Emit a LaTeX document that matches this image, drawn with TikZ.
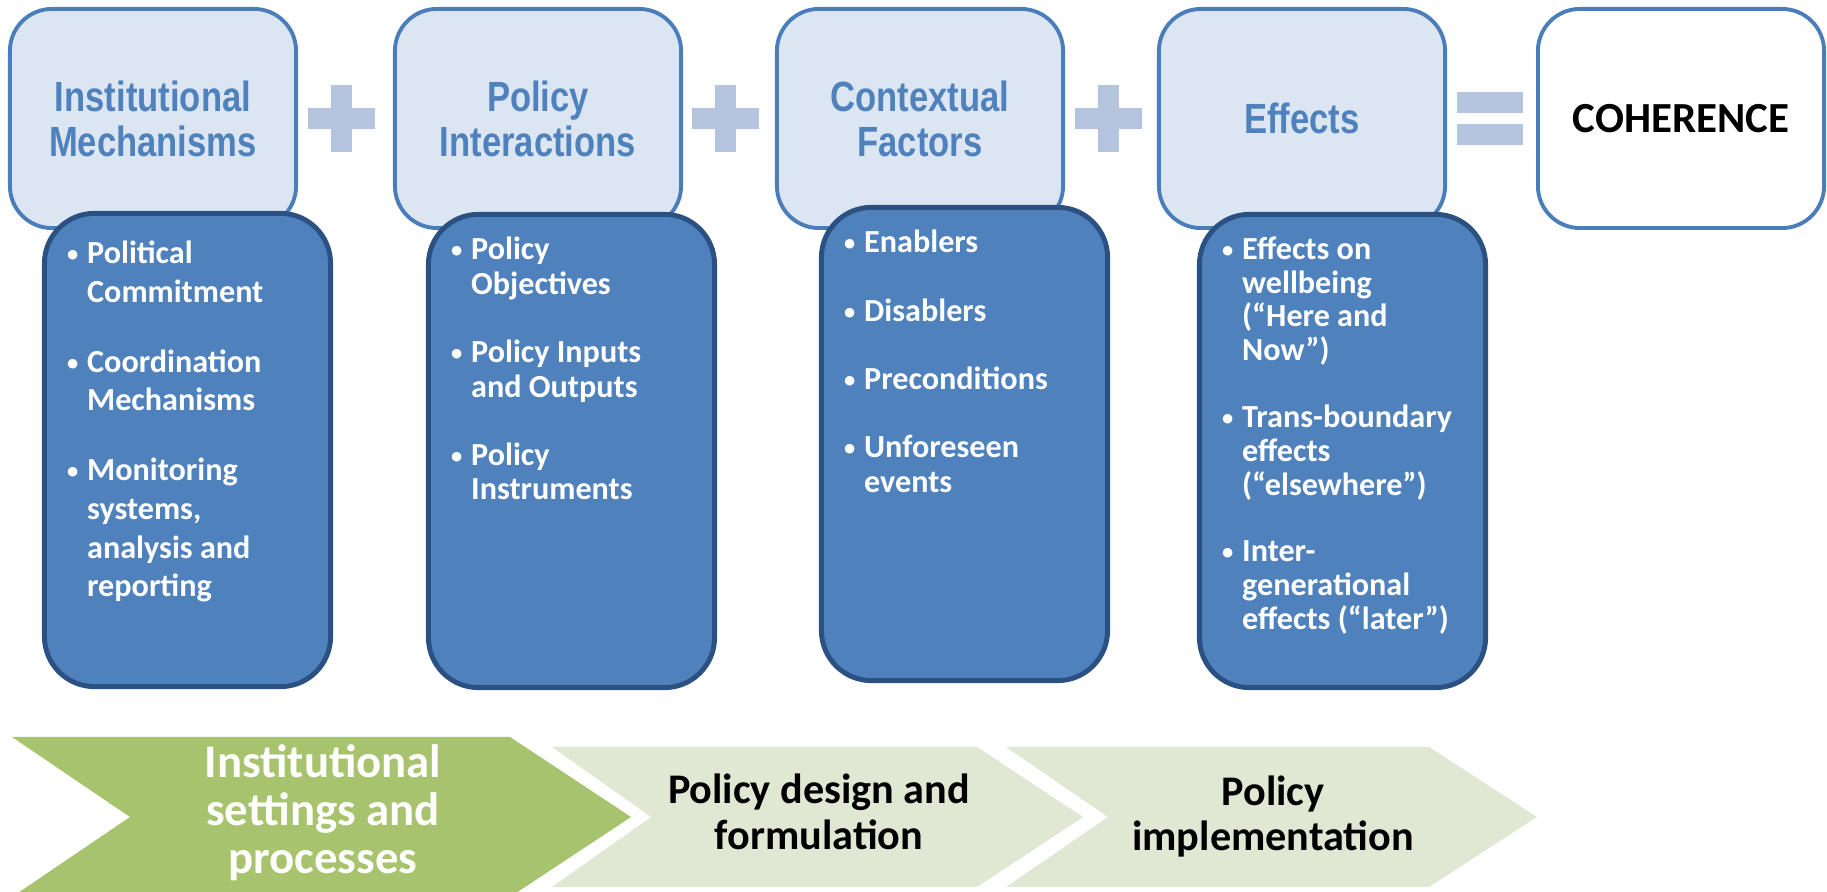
\documentclass[tikz,border=0pt]{standalone}
\usepackage{fontspec}
\setmainfont{Carlito}
\newfontfamily\narrowfont{Liberation Sans}[FakeStretch=0.82]
\usepackage{tikz}
\usepackage{xcolor}

\definecolor{lightfill}{HTML}{DCE6F2}
\definecolor{lightline}{HTML}{4A7EBB}
\definecolor{titleblue}{HTML}{4F81BD}
\definecolor{darkfill}{HTML}{4F81BD}
\definecolor{darkline}{HTML}{2A5182}
\definecolor{signcolor}{HTML}{B4C3DE}
\definecolor{stagegreen}{HTML}{A7C36E}
\definecolor{stagepale}{HTML}{E0E8D4}

\newcommand{\bul}{\par\hangindent=0.23cm\hangafter=1\noindent
  \makebox[0.23cm][l]{\hspace{0.03cm}\raisebox{0.55pt}{\fontsize{6.4}{6.4}\selectfont\textbullet}}}
\newcommand{\itemlist}[3]{\parbox[t]{2.7cm}{\fontsize{9.15}{#1}\selectfont\bfseries\setlength{\parskip}{#2}#3}}

\begin{document}
\begin{tikzpicture}[x=0.01cm,y=-0.01cm,
    topbox/.style={draw=lightline,fill=lightfill,line width=1.1pt,rounded corners=0.42cm,
      minimum width=2.86cm,minimum height=2.19cm,align=center,inner sep=0pt},
    headtext/.style={font=\narrowfont\bfseries\fontsize{12}{12.8}\selectfont,text=titleblue},
    listbox/.style={draw=darkline,fill=darkfill,line width=1.4pt,rounded corners=0.5cm,
      minimum width=2.86cm,minimum height=4.73cm,inner sep=0pt},
    listtext/.style={anchor=base west,inner sep=0pt,text=white},
    stage/.style={align=center,inner sep=0pt,font=\bfseries\fontsize{12}{13}\selectfont}]
  \useasboundingbox (0,0) rectangle (1827,892);

  % top row
  \node[topbox,headtext] (mech) at (153,118.5) {Institutional\\Mechanisms};
  \node[topbox,headtext] (inter) at (538,118.5) {Policy\\Interactions};
  \node[topbox,headtext] (context) at (920,118.5) {Contextual\\Factors};
  \node[topbox,headtext] (effects) at (1302,118.5) {Effects};
  \node[topbox,fill=white,font=\bfseries\fontsize{12.2}{14}\selectfont] (coherence) at (1681,118.5) {COHERENCE};

  % plus and equal signs
  \foreach \px in {342,726,1109}{
    \fill[signcolor] (\px-34,108) rectangle (\px+33,129);
    \fill[signcolor] (\px-11,85) rectangle (\px+10,152);
  }
  \fill[signcolor] (1457,92) rectangle (1523,113);
  \fill[signcolor] (1457,124) rectangle (1523,145);

  % lists
  \node[listbox] (mechlist) at (187.5,450) {};
  \node[listtext] (mechitems) at ([shift={(21.5,52.5)}]mechlist.north west)
    {\itemlist{11pt}{8.9pt}{\bul Political\newline Commitment
      \bul Coordination\newline Mechanisms
      \bul Monitoring\newline systems,\newline analysis and\newline reporting}};

  \node[listbox] (interlist) at (571.5,451) {};
  \node[listtext] (interitems) at ([shift={(21.5,48)}]interlist.north west)
    {\itemlist{9.8pt}{9.6pt}{\bul Policy\newline Objectives
      \bul Policy Inputs\newline and Outputs
      \bul Policy\newline Instruments}};

  \node[listbox] (contextlist) at (964.5,444) {};
  \node[listtext] (contextitems) at ([shift={(21.5,48)}]contextlist.north west)
    {\itemlist{9.8pt}{9.6pt}{\bul Enablers
      \bul Disablers
      \bul Preconditions
      \bul Unforeseen\newline events}};

  \node[listbox] (effectslist) at (1342.5,451) {};
  \node[listtext] (effectsitems) at ([shift={(21.5,47.5)}]effectslist.north west)
    {\itemlist{9.6pt}{9.4pt}{\bul Effects on\newline wellbeing\newline (“Here and\newline Now”)
      \bul Trans-boundary\newline effects\newline (“elsewhere”)
      \bul Inter-\newline generational\newline effects (“later”)}};

  % stages
  \fill[stagegreen] (12,737) -- (510,737) -- (631,817) -- (510,897) -- (12,897) -- (130,817) -- cycle;
  \fill[stagepale] (552,747) -- (977,747) -- (1083,817) -- (977,887) -- (552,887) -- (651,817) -- cycle;
  \fill[stagepale] (1006,747) -- (1429,747) -- (1537,817) -- (1429,887) -- (1006,887) -- (1108,817) -- cycle;

  \node[stage,text=white,font=\bfseries\fontsize{13.3}{13.7}\selectfont] (settings) at (323,813)
    {Institutional\\settings and\\processes};
  \node[stage] (design) at (819,812) {Policy design and\\formulation};
  \node[stage] (implement) at (1273,816.5) {Policy\\implementation};
\end{tikzpicture}
\end{document}
